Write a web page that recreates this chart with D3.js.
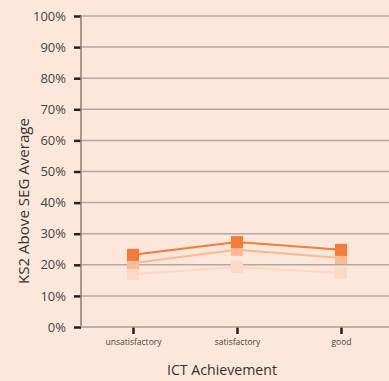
<!DOCTYPE html>
<html><head><meta charset="utf-8">
<script src="https://cdn.jsdelivr.net/npm/d3@7"></script>
<style>body{margin:0;background:#fde7da;}svg{display:block;}</style>
</head><body>
<svg id="c" width="389" height="381"></svg>
<script>
const categories = ["unsatisfactory", "satisfactory", "good"];
const seriesNames = ["pale", "medium", "dark"];
const palePct = [17.0, 19.3, 17.4];
const mediumPct = [20.6, 24.8, 22.2];
const darkPct = [23.2, 27.3, 24.8];
const yTicks = [0, 10, 20, 30, 40, 50, 60, 70, 80, 90, 100];
const seriesValues = [palePct, mediumPct, darkPct];
const seriesColors = ["#fdd8c3", "#fbb994", "#f47b38"];

(function () {
const FONT = "'Open Sans', Lato, sans-serif";
const svg = d3.select("#c");
const W = 389, H = 381;
svg.append("rect").attr("width", W).attr("height", H).attr("fill", "#fde7da");
const mLeft = 81, mRight = 393, mTop = 16, mBottom = 327;
const x = d3.scalePoint().domain(categories).range([mLeft, mRight]).padding(0.5);
const y = d3.scaleLinear().domain([0, 100]).range([mBottom, mTop]);

svg.append("g").selectAll("line").data(yTicks.slice(1)).join("line")
  .attr("x1", mLeft).attr("x2", W).attr("y1", d => y(d)).attr("y2", d => y(d))
  .attr("stroke", "#b3a8a2").attr("stroke-width", 1.5);

const ya = svg.append("g").attr("transform", `translate(${mLeft},0)`)
  .call(d3.axisLeft(y).tickValues(yTicks).tickFormat(d => d + "%").tickSize(7).tickPadding(8));
ya.select(".domain").remove();
ya.selectAll(".tick line").attr("stroke", "#222").attr("stroke-width", 2.5);
ya.selectAll(".tick text").attr("fill", "#444").style("font-family", FONT).style("font-size", "13px");
svg.append("line").attr("x1", mLeft).attr("x2", mLeft).attr("y1", mTop).attr("y2", mBottom)
  .attr("stroke", "#8a7d77").attr("stroke-width", 1.5);

const xa = svg.append("g").attr("transform", `translate(0,${mBottom})`)
  .call(d3.axisBottom(x).tickSize(7).tickPadding(5));
xa.select(".domain").remove();
xa.selectAll(".tick line").attr("stroke", "#222").attr("stroke-width", 2.5);
xa.selectAll(".tick text").attr("fill", "#444").style("font-family", FONT).style("font-size", "8.5px");
svg.append("line").attr("x1", mLeft).attr("x2", W).attr("y1", mBottom).attr("y2", mBottom)
  .attr("stroke", "#a89d97").attr("stroke-width", 1.5);

const line = d3.line().x((d, i) => x(categories[i])).y(d => y(d));
seriesValues.forEach((vals, s) => {
  const g = svg.append("g").attr("class", "series-" + seriesNames[s]);
  g.append("path").datum(vals).attr("d", line).attr("fill", "none")
    .attr("stroke", seriesColors[s]).attr("stroke-width", 2);
  g.selectAll("rect").data(vals).join("rect")
    .attr("x", (d, i) => x(categories[i]) - 6).attr("y", d => y(d) - 6)
    .attr("width", 12).attr("height", 12).attr("fill", seriesColors[s]);
});

svg.append("text").attr("x", 222).attr("y", 375).attr("text-anchor", "middle")
  .attr("fill", "#333").style("font-family", FONT).style("font-size", "15px")
  .attr("textLength", 110).attr("lengthAdjust", "spacingAndGlyphs")
  .text("ICT Achievement");
svg.append("text").attr("transform", "translate(29,201) rotate(-90)").attr("text-anchor", "middle")
  .attr("fill", "#333").style("font-family", FONT).style("font-size", "14px")
  .attr("textLength", 166).attr("lengthAdjust", "spacingAndGlyphs")
  .text("KS2 Above SEG Average");
})();
</script>
</body></html>
